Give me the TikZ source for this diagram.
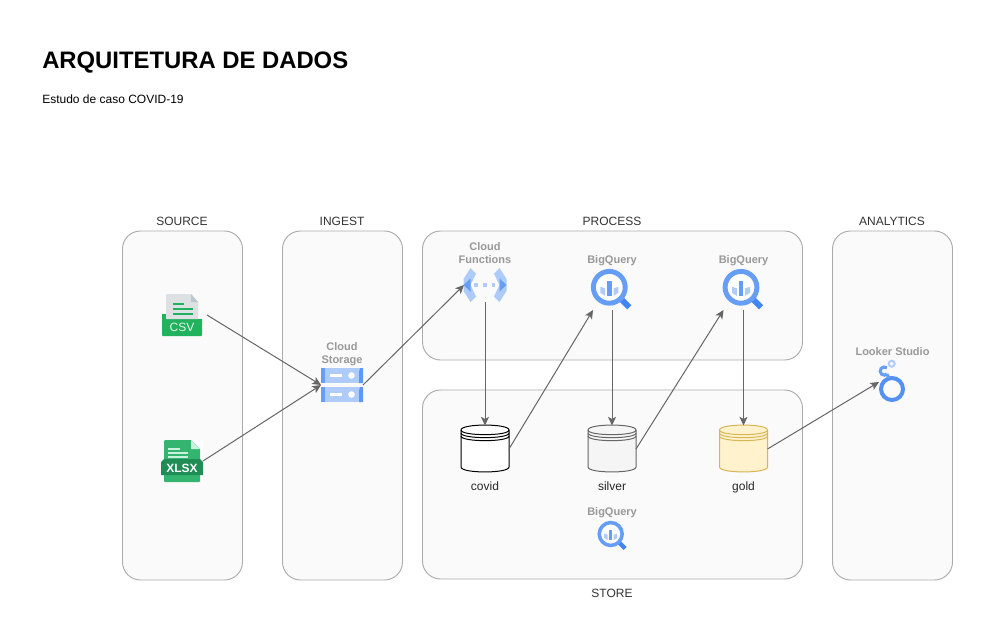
\documentclass[tikz,border=0pt]{standalone}
\usepackage{fontspec}
\setmainfont{Liberation Sans}
\usetikzlibrary{arrows.meta}
\definecolor{panelfill}{HTML}{FAFAFA}
\definecolor{panelline}{HTML}{ABABAB}
\definecolor{linegray}{HTML}{666666}
\definecolor{labelgray}{HTML}{999999}
\definecolor{hdr}{HTML}{333333}
\definecolor{gblue}{HTML}{4285F4}
\definecolor{gmid}{HTML}{669DF6}
\definecolor{glight}{HTML}{AECBFA}
\definecolor{csvgreen}{HTML}{20B25C}
\definecolor{csvpage}{HTML}{DDE1E4}
\definecolor{csvfold}{HTML}{BCC6CD}
\definecolor{xgreen}{HTML}{33B56F}
\definecolor{xdark}{HTML}{1F8D55}
\definecolor{xfold}{HTML}{C9F2DC}
\definecolor{goldfill}{HTML}{FFF2CC}
\definecolor{goldline}{HTML}{D6B656}
\definecolor{silverfill}{HTML}{F5F5F5}
\tikzset{
  panel/.style={draw=panelline,fill=panelfill,line width=0.7pt,rounded corners=13.5pt},
  hdrtext/.style={text=hdr,font=\fontsize{9}{10}\selectfont,inner sep=0pt},
  iconlabel/.style={text=labelgray,font=\bfseries\fontsize{8.25}{9.75}\selectfont,inner sep=0pt,align=center},
  dblabel/.style={text=black!85,font=\fontsize{9}{10}\selectfont,inner sep=0pt,anchor=base},
  conn/.style={draw=linegray,line width=0.75pt,-{Stealth[length=6.5pt,width=6pt,inset=1.6pt]}},
}
\newcommand{\cylicon}[4]{% name, cx, fill, stroke
  \node[inner sep=0pt,outer sep=0pt,minimum width=36pt,minimum height=35.25pt] (#1) at (#2,449) {};
  \draw[draw=#4,fill=#3,line width=0.75pt]
    (#2-24,430) .. controls (#2-24,423.4) and (#2+24,423.4) .. (#2+24,430)
    -- (#2+24,467) .. controls (#2+24,473.6) and (#2-24,473.6) .. (#2-24,467) -- cycle;
  \foreach \dy in {0,3,6}{
    \draw[draw=#4,line width=0.75pt] (#2-24,430+\dy) .. controls (#2-24,436.2+\dy) and (#2+24,436.2+\dy) .. (#2+24,430+\dy);
  }
}
\newcommand{\bqicon}[3]{% cx, cy, scale
  \begin{scope}[shift={(#1,#2)},scale=#3]
    \draw[gblue,line width=#3*4.4pt] (9.5,9.5) -- (20,20);
    \filldraw[draw=gmid,fill=white,line width=#3*3.7pt] (0,0) circle[radius=15.9];
    \fill[glight] (-9,-0.5) -- (-4.2,1) -- (-4.2,8.5) -- (-9,5.5) -- cycle;
    \fill[glight] (9,-0.5) -- (4.2,1) -- (4.2,8.5) -- (9,5.5) -- cycle;
    \fill[gmid] (-2.4,-6) rectangle (2.4,9);
  \end{scope}
}
\begin{document}
\begin{tikzpicture}[x=0.75pt,y=-0.75pt]
\useasboundingbox (0,0) rectangle (993,640);
\fill[white] (0,0) rectangle (993,640);

% title
\node[anchor=west,inner sep=0pt,font=\bfseries\fontsize{17.88}{20}\selectfont] (title) at (42,63) {ARQUITETURA DE DADOS};
\node[anchor=west,inner sep=0pt,font=\fontsize{9}{10}\selectfont] (subtitle) at (42,99) {Estudo de caso COVID-19};

% panels
\draw[panel] (122.5,231) rectangle (242.5,580);
\draw[panel] (282.5,231) rectangle (402.5,580);
\draw[panel] (422.5,231) rectangle (802.5,360);
\draw[panel] (422.5,390) rectangle (802.5,579);
\draw[panel] (832.5,231) rectangle (952.5,580);

% headers
\node[hdrtext] (hsource) at (182,221) {SOURCE};
\node[hdrtext] (hingest) at (342,221) {INGEST};
\node[hdrtext] (hprocess) at (612,221) {PROCESS};
\node[hdrtext] (hanalytics) at (892,221) {ANALYTICS};
\node[hdrtext] (hstore) at (612,593) {STORE};

% CSV icon
\node[inner sep=0pt,outer sep=0pt,minimum width=37.5pt,minimum height=31.5pt] (csv) at (182,315) {};
\fill[csvgreen] (162,314) -- (166,314) -- (166,319) -- (202,319) -- (202,335) -- (201,336) -- (163,336) -- (162,335) -- cycle;
\fill[csvpage] (167,294) -- (191,294) -- (198,302) -- (198,319) -- (166,319) -- (166,295) -- cycle;
\fill[csvfold] (191,294) -- (198,302) -- (191,302) -- cycle;
\fill[csvgreen] (173,303) rectangle (184,305);
\fill[csvgreen] (173,308) rectangle (193,310);
\fill[csvgreen] (173,312.5) rectangle (193,314.5);
\node[inner sep=0pt,text=white!88!csvgreen,font=\fontsize{9}{10}\selectfont] (csvt) at (182,327.5) {CSV};

% XLSX icon
\node[inner sep=0pt,outer sep=0pt,minimum width=31.5pt,minimum height=33pt] (xlsx) at (182,461) {};
\fill[white] (164,440) rectangle (203,482);
\fill[xgreen] (165,440) -- (191,440) -- (200,449) -- (200,481) -- (199,482) -- (165,482) -- (164,481) -- (164,441) -- cycle;
\fill[xfold] (191,440) -- (200,449) -- (191,449) -- cycle;
\fill[xdark] (164,459) -- (200,459) -- (203,462) -- (203,475) -- (161,475) -- (161,462) -- cycle;
\fill[xfold] (168,448) rectangle (180,450);
\fill[xfold] (168,451.8) rectangle (188,453.8);
\fill[xfold] (168,455.5) rectangle (188,457.5);
\node[inner sep=0pt,text=white,font=\bfseries\fontsize{9}{10}\selectfont] (xlsxt) at (182,468) {XLSX};

% Cloud Storage
\node[iconlabel] (lstorage) at (342,354) {Cloud\\Storage};
\node[inner sep=0pt,outer sep=0pt,minimum width=31.5pt,minimum height=25.5pt] (storage) at (342,385) {};
\foreach \y in {368,387}{
  \fill[glight] (321,\y) rectangle (363,\y+15);
  \fill[gmid] (321,\y) -- (325,\y) -- (325,\y+15) -- (321,\y+15) -- cycle;
  \fill[gblue!85!white] (359,\y+15) -- (359,\y+4) -- (360,\y) -- (363,\y) -- (363,\y+15) -- cycle;
  \fill[white] (329.5,\y+6.3) rectangle (342,\y+8.7);
  \fill[white] (351.5,\y+7.5) circle[radius=3.3];
}

% Cloud Functions
\node[iconlabel] (lcf) at (485,253.5) {Cloud\\Functions};
\node[inner sep=0pt,outer sep=0pt,minimum width=31.5pt,minimum height=25.5pt] (cf) at (485,285) {};
\fill[glight] (463.5,279) -- (470.5,268) -- (476,273.5) -- (470.5,285) -- (476,296.5) -- (470.5,302) -- (463.5,291) -- cycle;
\fill[glight] (506.5,279) -- (499.5,268) -- (494,273.5) -- (499.5,285) -- (494,296.5) -- (499.5,302) -- (506.5,291) -- cycle;
\fill[gmid] (463.5,285) -- (470.5,278.5) -- (470.5,291.5) -- cycle;
\fill[gmid] (506.5,285) -- (499.5,278.5) -- (499.5,291.5) -- cycle;
\foreach \x in {476,485,493.5}{\fill[glight] (\x-1.8,283.2) rectangle (\x+1.8,286.8);}

% BigQuery icons
\node[iconlabel] (lbq1) at (612,260.5) {BigQuery};
\node[inner sep=0pt,outer sep=0pt,minimum width=28.5pt,minimum height=33pt] (bq1) at (612,288) {};
\bqicon{609.3}{287.3}{1}
\node[iconlabel] (lbq2) at (743.5,260.5) {BigQuery};
\node[inner sep=0pt,outer sep=0pt,minimum width=30pt,minimum height=33pt] (bq2) at (743.5,288) {};
\bqicon{741}{287.3}{1}
\node[iconlabel] (lbq3) at (612,512.5) {BigQuery};
\bqicon{610.7}{534}{0.72}

% Looker Studio
\node[iconlabel] (llooker) at (892.5,352) {Looker Studio};
\node[inner sep=0pt,outer sep=0pt,minimum width=19.5pt,minimum height=30pt] (looker) at (892,382) {};
\draw[gblue!90!white,line width=3pt] (892,389) circle[radius=11];
\draw[gmid,line width=2.3pt] (886.9,367.9) arc[start angle=-50,end angle=-310,radius=4.1];
\draw[gmid,line width=2.3pt] (886.9,374.1) -- (889,378);
\draw[glight,line width=1.5pt] (891.7,363.7) circle[radius=3];

% databases
\cylicon{covid}{485}{white}{black}
\cylicon{silver}{612}{silverfill}{linegray}
\cylicon{gold}{743.5}{goldfill}{goldline}
\node[dblabel] (lcovid) at (485,490) {covid};
\node[dblabel] (lsilver) at (612,490) {silver};
\node[dblabel] (lgold) at (743.5,490) {gold};

% connectors
\draw[conn] (csv.east) -- (storage.west);
\draw[conn] (xlsx.east) -- (storage.west);
\draw[conn] (storage.east) -- (cf.west);
\draw[conn] (cf.south) -- (covid.north);
\draw[conn] (covid.east) -- (bq1.south west);
\draw[conn] (bq1.south) -- (silver.north);
\draw[conn] (silver.east) -- (bq2.south west);
\draw[conn] (bq2.south) -- (gold.north);
\draw[conn] (gold.east) -- (looker.west);
\end{tikzpicture}
\end{document}
